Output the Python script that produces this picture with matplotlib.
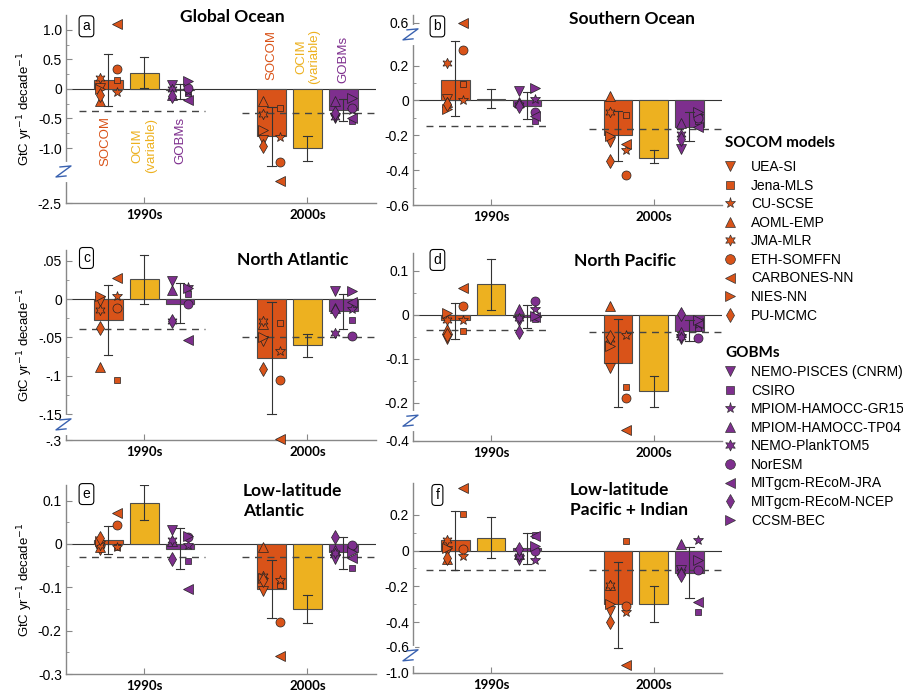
import numpy as np
import matplotlib
matplotlib.use('Agg')
import matplotlib.pyplot as plt
from matplotlib.lines import Line2D
from matplotlib.ticker import FixedLocator, FixedFormatter
from matplotlib.transforms import IdentityTransform

plt.rcParams['font.family'] = ['Liberation Sans', 'DejaVu Sans']

# ---------- Data ----------
SOCOM_C = '#D95319'
OCIM_C = '#EDB120'
GOBM_C = '#7E2F8E'

socom_names = ['UEA-SI', 'Jena-MLS', 'CU-SCSE', 'AOML-EMP', 'JMA-MLR',
               'ETH-SOMFFN', 'CARBONES-NN', 'NIES-NN', 'PU-MCMC']
gobm_names = ['NEMO-PISCES (CNRM)', 'CSIRO', 'MPIOM-HAMOCC-GR15',
              'MPIOM-HAMOCC-TP04', 'NEMO-PlankTOM5', 'NorESM',
              'MITgcm-REcoM-JRA', 'MITgcm-REcoM-NCEP', 'CCSM-BEC']
decades = ['1990s', '2000s']
panel_letters = ['a', 'b', 'c', 'd', 'e', 'f']
panel_titles = ['Global Ocean', 'Southern Ocean', 'North Atlantic',
                'North Pacific', 'Low-latitude\nAtlantic',
                'Low-latitude\nPacific + Indian']

# model trends per panel (a..f), same order as the name lists
socom_1990s = [
    [0.02, 0.15, -0.06, -0.20, 0.19, 0.34, 1.10, -0.01, -0.10],
    [0.01, 0.096, 0.0, -0.01, 0.215, 0.287, 0.60, -0.05, -0.02],
    [-0.003, -0.106, 0.004, -0.088, -0.014, -0.011, 0.028, 0.004, -0.038],
    [-0.056, -0.037, -0.012, -0.033, -0.011, 0.020, 0.061, 0.003, -0.047],
    [-0.013, -0.007, -0.007, -0.007, -0.002, 0.043, 0.072, 0.006, 0.014],
    [-0.004, 0.204, -0.031, -0.046, 0.061, 0.006, 0.352, 0.015, -0.040],
]
socom_2000s = [
    [-0.86, -0.32, -0.82, -0.20, -0.42, -1.23, -1.80, -0.70, -0.97],
    [-0.24, -0.083, -0.285, 0.026, -0.064, -0.43, -0.25, -0.204, -0.345],
    [-0.055, -0.031, -0.068, -0.033, -0.029, -0.106, -0.293, -0.049, -0.091],
    [-0.12, -0.164, -0.047, 0.020, -0.056, -0.189, -0.311, -0.07, -0.05],
    [-0.109, -0.094, -0.084, -0.008, -0.075, -0.181, -0.258, -0.078, -0.082],
    [-0.337, 0.056, -0.346, -0.19, -0.19, -0.309, -0.886, -0.30, -0.402],
]
gobm_1990s = [
    [0.07, -0.07, -0.04, -0.10, 0.0, 0.02, -0.18, -0.12, 0.13],
    [0.055, -0.12, 0.01, -0.01, -0.025, -0.068, -0.09, -0.03, 0.074],
    [0.023, 0.006, 0.016, 0.012, -0.028, -0.007, -0.053, -0.029, 0.014],
    [-0.014, -0.009, 0.012, 0.012, -0.007, 0.031, -0.005, -0.039, -0.002],
    [0.032, -0.040, -0.002, 0.006, 0.008, 0.016, -0.104, -0.035, 0.019],
    [-0.05, 0.089, -0.05, -0.02, -0.03, 0.0, 0.083, 0.009, 0.024],
]
gobm_2000s = [
    [-0.50, -0.55, -0.35, -0.20, -0.47, -0.32, -0.50, -0.40, -0.15],
    [-0.28, -0.12, -0.09, -0.13, -0.19, -0.10, -0.15, -0.22, -0.064],
    [0.011, -0.027, -0.013, -0.012, -0.044, -0.048, -0.004, -0.015, 0.010],
    [-0.056, -0.03, -0.02, -0.04, -0.05, -0.052, -0.018, 0.002, -0.011],
    [-0.034, -0.055, -0.01, -0.013, -0.02, -0.002, -0.032, 0.015, -0.019],
    [-0.11, -0.343, 0.061, 0.039, -0.12, -0.106, -0.29, -0.139, -0.05],
]

# bar heights (1990s, 2000s)
socom_bar = [(0.15, -0.80), (0.12, -0.20), (-0.027, -0.077),
             (-0.013, -0.109), (0.01, -0.104), (0.061, -0.30)]
ocim_bar = [(0.27, -1.0), (0.01, -0.33), (0.026, -0.06),
            (0.069, -0.173), (0.095, -0.15), (0.07, -0.30)]
gobm_bar = [(-0.02, -0.36), (-0.03, -0.15), (-0.006, -0.016),
            (-0.005, -0.037), (-0.012, -0.019), (0.015, -0.124)]

# error ranges ((lo, hi) 1990s, (lo, hi) 2000s)
socom_err = [((-0.29, 0.59), (-1.30, -0.30)), ((-0.09, 0.34), (-0.35, -0.06)),
             ((-0.073, 0.019), (-0.15, -0.004)), ((-0.055, 0.026), (-0.21, -0.009)),
             ((-0.023, 0.042), (-0.171, -0.036)), ((-0.106, 0.222), (-0.62, -0.065))]
ocim_err = [((0.01, 0.54), (-1.22, -0.80)), ((-0.045, 0.064), (-0.36, -0.285)),
            ((-0.006, 0.058), (-0.075, -0.046)), ((0.011, 0.127), (-0.209, -0.139)),
            ((0.055, 0.135), (-0.183, -0.118)), ((-0.043, 0.187), (-0.402, -0.198))]
gobm_err = [((-0.17, 0.09), (-0.55, -0.17)), ((-0.105, 0.05), (-0.23, -0.065)),
            ((-0.031, 0.021), (-0.039, 0.007)), ((-0.031, 0.023), (-0.06, -0.011)),
            ((-0.058, 0.036), (-0.057, 0.016)), ((-0.074, 0.098), (-0.263, 0.02))]

# dashed reference level (1990s, 2000s)
dashed = [(-0.38, -0.41), (-0.145, -0.165), (-0.039, -0.05),
          (-0.035, -0.039), (-0.03, -0.031), (-0.111, -0.111)]

yticks = [[1.0, 0.5, 0, -0.5, -1.0, -2.5],
          [0.6, 0.2, 0, -0.2, -0.4, -0.6],
          [0.05, 0, -0.05, -0.1, -0.15, -0.3],
          [0.1, 0, -0.1, -0.2, -0.4],
          [0.1, 0, -0.1, -0.2, -0.3],
          [0.2, 0, -0.2, -0.4, -0.6, -1.0]]
ytick_labels = [['1.0', '0.5', '0', '-0.5', '-1.0', '-2.5'],
                ['0.6', '0.2', '0', '-0.2', '-0.4', '-0.6'],
                ['.05', '0', '-.05', '-.1', '-.15', '-.3'],
                ['0.1', '0', '-0.1', '-0.2', '-0.4'],
                ['0.1', '0', '-0.1', '-0.2', '-0.3'],
                ['0.2', '0', '-0.2', '-0.4', '-0.6', '-1.0']]

# ---------- Layout ----------
HEX = (6, 1, 0)
socom_markers = ['v', 's', '*', '^', HEX, 'o', '<', '>', 'd']
gobm_markers = ['v', 's', '*', '^', HEX, 'o', '<', 'd', '>']
msize = {'v': 6.5, 's': 5, '*': 7.5, '^': 6.5, HEX: 7.5, 'o': 6.5,
         '<': 6.5, '>': 6.5, 'd': 7}
socom_right = [1, 2, 5, 6]
gobm_right = [1, 2, 5, 6, 8]

minor_ticks = [[0.75, 0.25, -0.25, -0.75],
               [0.1, -0.1, -0.3, -0.5],
               [0.025, -0.025, -0.075, -0.125],
               [0.05, -0.05, -0.15],
               [0.05, -0.05, -0.15, -0.25],
               [0.1, -0.1, -0.3]]
# axis break: (side, start, compression), and where the zigzag sits
breaks = [('lo', -1.3, 0.525), ('hi', 0.35, 0.38), ('lo', -0.16, 0.17),
          ('lo', -0.24, 0.29), None, ('lo', -0.5, 0.37)]
zigzag_at = [-1.5, 0.42, -0.184, -0.245, None, -0.74]
ylims = [(-2.5, 1.25), (-0.6, 0.72), (-0.3, 0.064),
         (-0.4, 0.14), (-0.3, 0.136), (-1.0, 0.378)]
# axes rectangles in pixels: left, top, right, bottom
W, H = 904, 696
rects = [(66, 15, 376, 203), (413, 15, 722, 205),
         (66, 250, 376, 440), (413, 253, 722, 441),
         (66, 485, 376, 674), (413, 483, 722, 673)]
letter_pos = [(0.066, 0.94), (0.079, 0.94), (0.066, 0.958),
              (0.079, 0.963), (0.066, 0.952), (0.079, 0.937)]
title_pos = [(0.535, 0.99, 'center'), (0.709, 0.98, 'center'),
             (0.732, 0.947, 'center'), (0.686, 0.957, 'center'),
             (0.571, 0.915, 'left'), (0.508, 0.91, 'left')]


def make_scale(brk):
    side, b, k = brk

    def fwd(y):
        y = np.asarray(y, dtype=float)
        if side == 'lo':
            return np.where(y < b, b + (y - b) * k, y)
        return np.where(y > b, b + (y - b) * k, y)

    def inv(y):
        y = np.asarray(y, dtype=float)
        if side == 'lo':
            return np.where(y < b, b + (y - b) / k, y)
        return np.where(y > b, b + (y - b) / k, y)
    return fwd, inv


fig = plt.figure(figsize=(W / 100, H / 100), dpi=100)
offsets = [-0.22, 0.0, 0.22]
bw = 0.175
mdx = 0.05
zigzags = []

for i in range(6):
    l, t, r, b = rects[i]
    ax = fig.add_axes([l / W, 1 - b / H, (r - l) / W, (b - t) / H])
    if breaks[i] is not None:
        ax.set_yscale('function', functions=make_scale(breaks[i]))

    for j in range(2):
        x0 = j + 1
        # bars
        ax.bar(x0 + offsets[0], socom_bar[i][j], bw, color=SOCOM_C,
               edgecolor='#4d4d4d', lw=0.8, zorder=2)
        ax.bar(x0 + offsets[1], ocim_bar[i][j], bw, color=OCIM_C,
               edgecolor='#4d4d4d', lw=0.8, zorder=2)
        ax.bar(x0 + offsets[2], gobm_bar[i][j], bw, color=GOBM_C,
               edgecolor='#4d4d4d', lw=0.8, zorder=2)

        # model points
        svals = socom_1990s[i] if j == 0 else socom_2000s[i]
        gvals = gobm_1990s[i] if j == 0 else gobm_2000s[i]
        for m in range(9):
            xs = x0 + offsets[0] + (mdx if m in socom_right else -mdx)
            ax.plot(xs, svals[m], ls='none', marker=socom_markers[m],
                    ms=msize[socom_markers[m]], mfc=SOCOM_C, mec='#222222',
                    mew=0.5, zorder=4, clip_on=False)
            xg = x0 + offsets[2] + (mdx if m in gobm_right else -mdx)
            ax.plot(xg, gvals[m], ls='none', marker=gobm_markers[m],
                    ms=msize[gobm_markers[m]], mfc=GOBM_C, mec='#222222',
                    mew=0.5, zorder=4, clip_on=False)

        # error bars
        for k, err in enumerate([socom_err, ocim_err, gobm_err]):
            lo, hi = err[i][j]
            xe = x0 + offsets[k]
            ax.plot([xe, xe], [lo, hi], color='#333333', lw=0.8, zorder=5)
            ax.plot([xe - 0.025, xe + 0.025], [lo, lo], color='#333333', lw=0.8, zorder=5)
            ax.plot([xe - 0.025, xe + 0.025], [hi, hi], color='#333333', lw=0.8, zorder=5)

    # dashed levels
    xr = 2.42
    ax.plot([0.6, 1.37], [dashed[i][0]] * 2, ls=(0, (5, 4)), color='#444444', lw=1, zorder=3)
    ax.plot([1.6, xr], [dashed[i][1]] * 2, ls=(0, (5, 4)), color='#444444', lw=1, zorder=3)
    ax.axhline(0, color='#333333', lw=0.8, zorder=1)

    ax.set_xlim(0.52, xr)
    ax.set_ylim(*ylims[i])
    ax.set_xticks([1, 2])
    ax.set_xticklabels(decades, fontsize=9.5, fontweight='bold', family='Lato')
    ax.yaxis.set_major_locator(FixedLocator(yticks[i]))
    ax.yaxis.set_major_formatter(FixedFormatter(ytick_labels[i]))
    ax.yaxis.set_minor_locator(FixedLocator(minor_ticks[i]))
    ax.tick_params(axis='y', direction='in', labelsize=10, length=4, color='#888888', pad=3)
    ax.tick_params(axis='y', which='minor', direction='in', length=2.5, color='#888888')
    ax.tick_params(axis='x', direction='in', length=4, color='#888888', pad=4)
    for s in ['top', 'right']:
        ax.spines[s].set_visible(False)
    for s in ['left', 'bottom']:
        ax.spines[s].set_color('#888888')
        ax.spines[s].set_linewidth(1.0)

    ax.text(*letter_pos[i], panel_letters[i], transform=ax.transAxes, fontsize=10,
            ha='center', va='center', zorder=6,
            bbox=dict(boxstyle='round,pad=0.25', fc='white', ec='black', lw=0.8))
    tx, ty, tha = title_pos[i]
    ax.text(tx, ty, panel_titles[i], transform=ax.transAxes, fontsize=12.5,
            fontweight='bold', family='Lato', ha=tha, va='center',
            linespacing=1.35)

    if i % 2 == 0:
        ax.set_ylabel('GtC yr$^{-1}$ decade$^{-1}$', fontsize=9.5)
        ax.yaxis.set_label_coords(-0.1, 0.5)

    if zigzag_at[i] is not None:
        zigzags.append((ax, zigzag_at[i]))

    # group labels in panel a
    if i == 0:
        lab_kw = dict(rotation=90, fontsize=9.5, ha='center', va='center',
                      multialignment='center', linespacing=1.1)
        ax.text(1 + offsets[0] - 0.02, -0.88, 'SOCOM', color=SOCOM_C, **lab_kw)
        ax.text(1 + offsets[1], -0.96, 'OCIM\n(variable)', color=OCIM_C, **lab_kw)
        ax.text(1 + offsets[2], -0.88, 'GOBMs', color=GOBM_C, **lab_kw)
        ax.text(2 + offsets[0], 0.57, 'SOCOM', color=SOCOM_C, **lab_kw)
        ax.text(2 + offsets[1], 0.55, 'OCIM\n(variable)', color=OCIM_C, **lab_kw)
        ax.text(2 + offsets[2], 0.50, 'GOBMs', color=GOBM_C, **lab_kw)

# zigzag break symbols on the left spines
for ax, yz in zigzags:
    px, py = ax.get_yaxis_transform().transform((0, yz))
    dx = np.array([-6, 5, -10, 0])
    dy = np.array([5, 6, -5, -4])
    fig.add_artist(Line2D([px] * 2, [py - 8, py + 8], color='white', lw=3,
                          transform=IdentityTransform(), zorder=9))
    fig.add_artist(Line2D(px + dx, py + dy, color='#3A62B0', lw=1.0,
                          transform=IdentityTransform(), zorder=10))


# legends
def handles(mlist, color):
    return [Line2D([], [], ls='none', marker=mk, ms=msize[mk] + 0.5,
                   mfc=color, mec='#333333', mew=0.5) for mk in mlist]


leg_kw = dict(frameon=False, loc='upper left',
              prop={'family': 'Liberation Sans', 'size': 10},
              handletextpad=0.9, labelspacing=0.33, handlelength=1.2,
              borderaxespad=0, borderpad=0)
fig.legend(handles(socom_markers, SOCOM_C), socom_names,
           bbox_to_anchor=(722 / W, 1 - 160 / H), **leg_kw)
fig.legend(handles(gobm_markers, GOBM_C), gobm_names,
           bbox_to_anchor=(722 / W, 1 - 365 / H), **leg_kw)
fig.text(725 / W, 1 - 143 / H, 'SOCOM models', fontsize=11, fontweight='bold',
         family='Lato', ha='left', va='center')
fig.text(725 / W, 1 - 353 / H, 'GOBMs', fontsize=11, fontweight='bold',
         family='Lato', ha='left', va='center')

fig.savefig('out.png', dpi=100)
